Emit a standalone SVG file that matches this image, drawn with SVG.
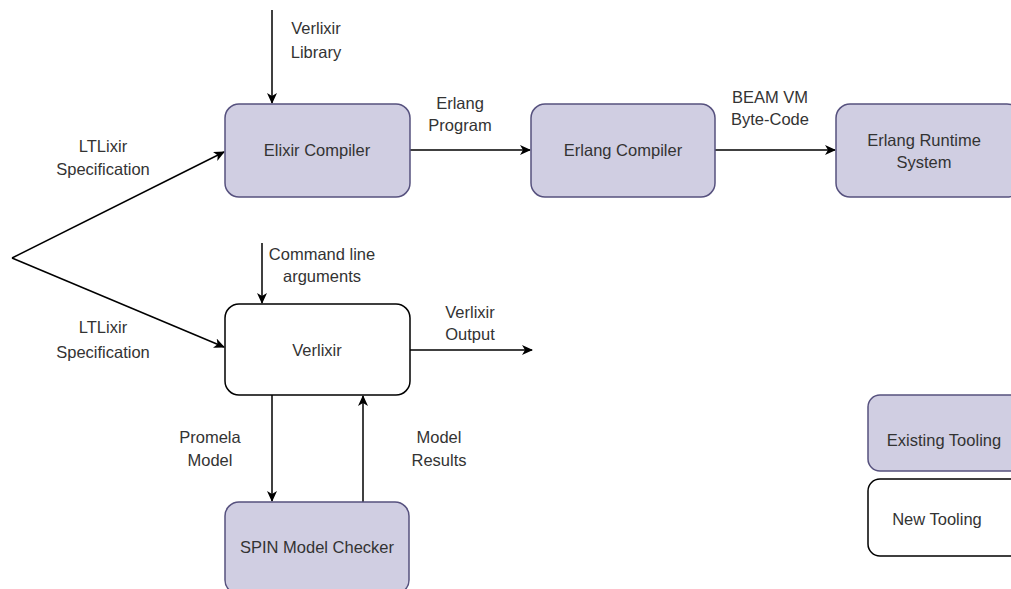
<svg xmlns="http://www.w3.org/2000/svg" width="1011" height="589" viewBox="0 0 1011 589">
<defs>
<marker id="arr" markerWidth="12" markerHeight="10" refX="10" refY="5" orient="auto" markerUnits="userSpaceOnUse">
<path d="M0,0 L11,5 L0,10 L3,5 Z" fill="#000"/>
</marker>
<style>
.ex{fill:#d0cee2;stroke:#56517e;stroke-width:1.5}
.nw{fill:#fff;stroke:#000;stroke-width:1.5}
.t{font-family:"Liberation Sans",Arial,sans-serif;font-size:16.5px;fill:#333;text-anchor:middle}
.c{fill:none;stroke:#000;stroke-width:1.5;marker-end:url(#arr)}
</style>
</defs>
<rect width="1011" height="589" fill="#fff"/>
<g id="connectors">
<line class="c" x1="272" y1="10" x2="272" y2="103"/>
<line class="c" x1="410" y1="150" x2="530" y2="150"/>
<line class="c" x1="715" y1="150" x2="835" y2="150"/>
<line class="c" x1="12" y1="258" x2="224" y2="152"/>
<line class="c" x1="12" y1="258" x2="224" y2="347"/>
<line class="c" x1="262" y1="243" x2="262" y2="303"/>
<line class="c" x1="410" y1="350" x2="532" y2="350"/>
<line class="c" x1="272" y1="395" x2="272" y2="501"/>
<line class="c" x1="363" y1="502" x2="363" y2="396"/>
</g>
<g id="labels">
<text class="t" x="316" y="34">Verlixir</text>
<text class="t" x="316" y="58">Library</text>
<text class="t" x="103" y="152">LTLixir</text>
<text class="t" x="103" y="175">Specification</text>
<text class="t" x="460" y="109">Erlang</text>
<text class="t" x="460" y="131">Program</text>
<text class="t" x="770" y="103">BEAM VM</text>
<text class="t" x="770" y="125">Byte-Code</text>
<text class="t" x="322" y="260">Command line</text>
<text class="t" x="322" y="282">arguments</text>
<text class="t" x="103" y="333">LTLixir</text>
<text class="t" x="103" y="358">Specification</text>
<text class="t" x="470" y="318">Verlixir</text>
<text class="t" x="470" y="340">Output</text>
<text class="t" x="210" y="443">Promela</text>
<text class="t" x="210" y="466">Model</text>
<text class="t" x="439" y="443">Model</text>
<text class="t" x="439" y="466">Results</text>
</g>
<g id="elixir-compiler">
<rect class="ex" x="225" y="104" width="185" height="93" rx="14"/>
<text class="t" x="317" y="156">Elixir Compiler</text>
</g>
<g id="erlang-compiler">
<rect class="ex" x="531" y="104" width="184" height="93" rx="14"/>
<text class="t" x="623" y="156">Erlang Compiler</text>
</g>
<g id="erlang-runtime">
<rect class="ex" x="836" y="104" width="185" height="93" rx="14"/>
<text class="t" x="924" y="146">Erlang Runtime</text>
<text class="t" x="924" y="168">System</text>
</g>
<g id="verlixir">
<rect class="nw" x="225" y="304" width="185" height="91" rx="14"/>
<text class="t" x="317" y="356">Verlixir</text>
</g>
<g id="spin">
<rect class="ex" x="225" y="502" width="184" height="92" rx="14"/>
<text class="t" x="317" y="553">SPIN Model Checker</text>
</g>
<g id="legend-existing">
<rect class="ex" x="868" y="395" width="160" height="76" rx="12"/>
<text class="t" x="944" y="446">Existing Tooling</text>
</g>
<g id="legend-new">
<rect class="nw" x="868" y="479" width="160" height="77" rx="12"/>
<text class="t" x="937" y="525">New Tooling</text>
</g>
</svg>
